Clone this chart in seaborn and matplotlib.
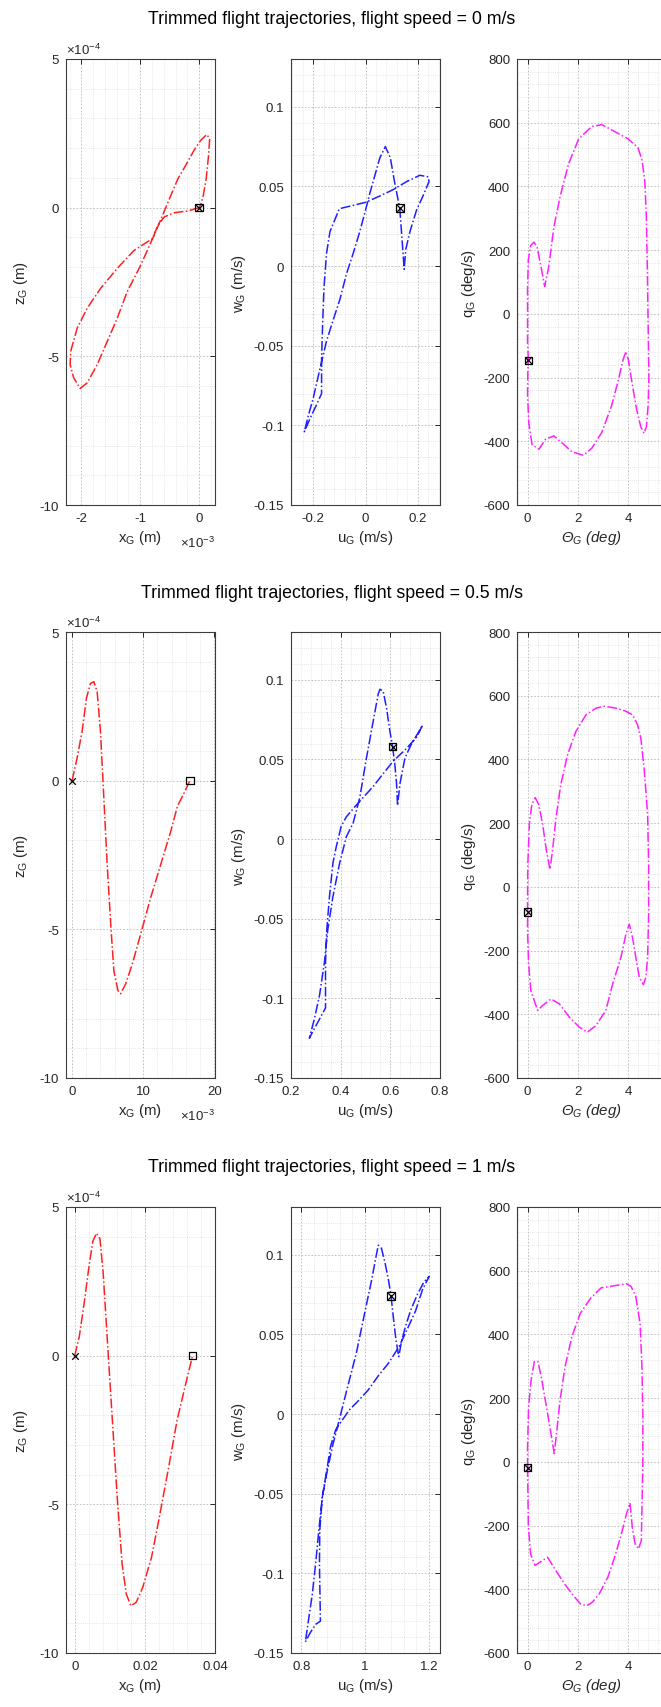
import numpy as np
import matplotlib
matplotlib.use("Agg")
import matplotlib.pyplot as plt
from matplotlib.ticker import MultipleLocator, FuncFormatter
import seaborn as sns

# ---------------- data ----------------
speeds = ["0", "0.5", "1"]

# Row 1 (speed 0): x in 1e-3 m, z in 1e-4 m
r1_x = [0, -0.19, -0.42, -0.59, -0.70, -0.79, -1.10, -1.39, -1.67, -1.90, -2.07, -2.18, -2.19, -2.13,
        -2.02, -1.90, -1.73, -1.56, -1.39, -1.22, -0.99, -0.79, -0.65, -0.51, -0.36, -0.22, -0.08, 0.03,
        0.13, 0.18, 0.16, 0.12, 0.07, 0.03, 0]
r1_z = [0, -0.11, -0.17, -0.31, -0.59, -1.04, -1.43, -2.04, -2.71, -3.38, -4.05, -4.83, -5.28, -5.72,
        -6.08, -5.89, -5.28, -4.50, -3.72, -2.82, -1.93, -1.04, -0.40, 0.27, 0.97, 1.45, 1.95, 2.27,
        2.46, 2.32, 1.74, 0.97, 0.40, 0.12, 0]
r1_u = [0.131, 0.141, 0.148, 0.154, 0.170, 0.195, 0.220, 0.243, 0.240, 0.208, 0.157, 0.106, 0.055,
        0.0, -0.05, -0.10, -0.136, -0.149, -0.159, -0.164, -0.168, -0.168, -0.187, -0.213, -0.234,
        -0.219, -0.200, -0.175, -0.149, -0.124, -0.098, -0.073, -0.047, -0.022, 0.0, 0.017, 0.036,
        0.055, 0.076, 0.095, 0.112, 0.131]
r1_w = [0.0364, 0.014, -0.002, 0.0104, 0.0216, 0.035, 0.044, 0.053, 0.056, 0.057, 0.053, 0.048,
        0.044, 0.040, 0.038, 0.036, 0.0216, 0.008, -0.014, -0.036, -0.058, -0.080, -0.087, -0.096,
        -0.104, -0.094, -0.083, -0.065, -0.047, -0.034, -0.021, -0.005, 0.008, 0.0216, 0.035, 0.046,
        0.057, 0.068, 0.075, 0.068, 0.052, 0.0364]
r1_th = [0.03, 0.0, 0.0, 0.03, 0.12, 0.25, 0.38, 0.51, 0.68, 0.84, 1.04, 1.30, 1.63, 2.03, 2.55, 2.95,
         3.47, 4.00, 4.39, 4.55, 4.66, 4.72, 4.76, 4.79, 4.82, 4.79, 4.72, 4.63, 4.50, 4.33, 4.16,
         4.00, 3.91, 3.80, 3.60, 3.34, 2.95, 2.55, 2.22, 1.76, 1.37, 1.04, 0.71, 0.45, 0.18, 0.05,
         0.0, 0.01, 0.03]
r1_q = [-146, -87, 80, 170, 214, 225, 209, 158, 86, 147, 270, 371, 471, 549, 588, 594, 572, 549, 521,
        482, 415, 304, 136, -31, -199, -288, -355, -375, -355, -299, -221, -143, -118, -143, -210,
        -288, -372, -422, -444, -433, -405, -383, -394, -425, -411, -344, -255, -176, -146]

# Row 2 (speed 0.5): x in 1e-3 m, z in 1e-4 m
r2_x = [0, 0.71, 1.41, 2.02, 2.59, 3.06, 3.53, 4.00, 4.47, 4.94, 5.50, 5.88, 6.45, 6.82, 7.53, 8.47,
        9.65, 11.06, 12.47, 13.88, 14.82, 15.76, 16.56]
r2_z = [0, 0.76, 1.65, 2.77, 3.27, 3.33, 2.99, 1.65, -0.58, -2.82, -5.05, -6.39, -7.06, -7.17, -6.84,
        -6.17, -5.16, -3.93, -2.82, -1.70, -0.86, -0.41, 0]
r2_u = [0.609, 0.618, 0.625, 0.629, 0.639, 0.659, 0.686, 0.713, 0.730, 0.706, 0.666, 0.612, 0.571,
        0.531, 0.490, 0.450, 0.423, 0.402, 0.382, 0.369, 0.355, 0.344, 0.339, 0.339, 0.315, 0.294,
        0.274, 0.294, 0.315, 0.335, 0.348, 0.369, 0.396, 0.423, 0.450, 0.477, 0.504, 0.531, 0.551,
        0.558, 0.571, 0.585, 0.598, 0.609]
r2_w = [0.058, 0.047, 0.035, 0.021, 0.035, 0.051, 0.060, 0.067, 0.0716, 0.064, 0.057, 0.049, 0.041,
        0.033, 0.026, 0.019, 0.014, 0.008, -0.005, -0.015, -0.036, -0.057, -0.077, -0.106, -0.113,
        -0.119, -0.125, -0.113, -0.098, -0.077, -0.057, -0.036, -0.015, 0.0015, 0.010, 0.026, 0.051,
        0.074, 0.091, 0.094, 0.093, 0.082, 0.068, 0.058]
r2_th = [0.0, 0.0, 0.01, 0.07, 0.17, 0.30, 0.44, 0.60, 0.75, 0.89, 0.99, 1.13, 1.32, 1.59, 1.92, 2.32,
         2.72, 3.05, 3.51, 3.91, 4.17, 4.37, 4.50, 4.64, 4.77, 4.81, 4.81, 4.77, 4.70, 4.60, 4.44,
         4.30, 4.17, 4.04, 3.91, 3.71, 3.38, 3.11, 2.72, 2.38, 2.05, 1.66, 1.26, 0.93, 0.60, 0.40,
         0.13, 0.04, 0.0, 0.0]
r2_q = [-78, -33, 71, 196, 259, 280, 259, 196, 113, 55, 113, 217, 321, 415, 488, 540, 561, 567, 561,
        551, 540, 509, 467, 363, 227, 71, -86, -221, -284, -307, -284, -221, -159, -117, -148, -221,
        -305, -388, -435, -456, -440, -409, -367, -352, -372, -388, -326, -242, -138, -78]

# Row 3 (speed 1): x in m, z in 1e-4 m
r3_x = [0, 0.0013, 0.0027, 0.0042, 0.0052, 0.0062, 0.0072, 0.0081, 0.0094, 0.0106, 0.0121, 0.0135,
        0.0147, 0.0160, 0.0175, 0.0194, 0.0219, 0.0243, 0.0268, 0.0292, 0.0317, 0.0336]
r3_z = [0, 0.65, 1.78, 3.13, 3.86, 4.12, 3.92, 2.79, 0.32, -1.94, -4.75, -7.00, -8.02, -8.41, -8.30,
        -7.79, -6.78, -5.32, -3.74, -2.16, -0.92, 0]
r3_u = [1.081, 1.089, 1.096, 1.105, 1.113, 1.126, 1.142, 1.163, 1.184, 1.200, 1.179, 1.158, 1.131,
        1.105, 1.073, 1.041, 1.009, 0.977, 0.951, 0.929, 0.908, 0.892, 0.880, 0.866, 0.858, 0.857,
        0.860, 0.845, 0.829, 0.813, 0.823, 0.834, 0.845, 0.855, 0.866, 0.880, 0.898, 0.919, 0.945,
        0.972, 0.998, 1.020, 1.036, 1.041, 1.051, 1.062, 1.073, 1.081]
r3_w = [0.074, 0.059, 0.047, 0.036, 0.045, 0.055, 0.065, 0.075, 0.083, 0.0864, 0.078, 0.065, 0.053,
        0.042, 0.032, 0.024, 0.015, 0.008, 0.0027, -0.0036, -0.0098, -0.020, -0.035, -0.052, -0.073,
        -0.094, -0.130, -0.132, -0.137, -0.143, -0.129, -0.114, -0.094, -0.073, -0.052, -0.037,
        -0.020, -0.0036, 0.017, 0.038, 0.063, 0.084, 0.101, 0.106, 0.104, 0.095, 0.084, 0.074]
r3_th = [0.0, 0.0, 0.04, 0.14, 0.27, 0.41, 0.54, 0.75, 0.95, 1.06, 1.15, 1.29, 1.49, 1.76, 2.10, 2.51,
         2.92, 3.46, 3.93, 4.11, 4.30, 4.47, 4.54, 4.58, 4.58, 4.54, 4.52, 4.41, 4.27, 4.16, 4.07,
         3.93, 3.73, 3.46, 3.19, 2.85, 2.58, 2.35, 2.10, 1.76, 1.42, 1.08, 0.80, 0.55, 0.30, 0.12,
         0.03, 0.0]
r3_q = [-18, 47, 173, 257, 315, 315, 268, 173, 79, 26, 89, 194, 299, 393, 467, 514, 546, 553, 559,
        551, 519, 435, 310, 152, -5, -163, -247, -273, -257, -205, -129, -163, -226, -299, -362,
        -414, -440, -452, -446, -414, -377, -336, -300, -312, -325, -290, -200, -18]

rows = [
    dict(x=r1_x, z=r1_z, u=r1_u, w=r1_w, th=r1_th, q=r1_q,
         xlim=(-2.26, 0.27), xticks=[-2, -1, 0], xmin=0.2, xexp=True,
         ulim=(-0.285, 0.285), uticks=[-0.2, 0, 0.2], umin=0.04),
    dict(x=r2_x, z=r2_z, u=r2_u, w=r2_w, th=r2_th, q=r2_q,
         xlim=(-0.85, 20.1), xticks=[0, 10, 20], xmin=2, xexp=True,
         ulim=(0.2, 0.8), uticks=[0.2, 0.4, 0.6, 0.8], umin=0.04),
    dict(x=r3_x, z=r3_z, u=r3_u, w=r3_w, th=r3_th, q=r3_q,
         xlim=(-0.0025, 0.0400), xticks=[0, 0.02, 0.04], xmin=0.004, xexp=False,
         ulim=(0.768, 1.234), uticks=[0.8, 1.0, 1.2], umin=0.04),
]

# ---------------- style ----------------
sns.set_theme(style="white")
plt.rcParams["font.family"] = ["Liberation Sans", "DejaVu Sans"]
plt.rcParams["mathtext.fontset"] = "custom"
plt.rcParams["mathtext.rm"] = "Liberation Sans"
plt.rcParams["mathtext.it"] = "Liberation Sans:italic"
plt.rcParams["mathtext.default"] = "regular"
plt.rcParams["axes.unicode_minus"] = False

W, H = 661, 1708
fig = plt.figure(figsize=(W / 100, H / 100), dpi=100)
fig.patch.set_facecolor("white")

TXT = "#262626"
col_left = [66, 291, 517]
col_w = 149
row_top = [60, 633, 1208]
row_h = 446
fmt = FuncFormatter(lambda v, p: f"{v:g}")


def style_axes(ax, xlim, ylim, xticks, yticks, xminor, yminor):
    ax.set_xlim(*xlim)
    ax.set_ylim(*ylim)
    ax.set_xticks(xticks)
    ax.set_yticks(yticks)
    ax.xaxis.set_minor_locator(MultipleLocator(xminor))
    ax.yaxis.set_minor_locator(MultipleLocator(yminor))
    ax.xaxis.set_major_formatter(fmt)
    ax.yaxis.set_major_formatter(fmt)
    ax.grid(True, which="major", linestyle=(0, (2, 2)), color="#b8b8b8", linewidth=0.6)
    ax.grid(True, which="minor", linestyle=(0, (1, 2)), color="#d0d0d0", linewidth=0.5)
    ax.set_axisbelow(True)
    ax.tick_params(which="major", direction="in", length=3.5, width=0.7, top=True, right=True,
                   labelsize=9.5, colors=TXT, pad=5)
    ax.tick_params(which="minor", length=0, top=True, right=True)
    for s in ax.spines.values():
        s.set_color("#3c3c3c")
        s.set_linewidth(0.8)
    ax.set_facecolor("white")


def markers(ax, xs, ys):
    sns.scatterplot(x=[xs[0]], y=[ys[0]], marker="x", color="black", s=22, linewidth=0.9,
                    ax=ax, zorder=5, legend=False)
    sns.scatterplot(x=[xs[-1]], y=[ys[-1]], marker="s", facecolor="none", edgecolor="black",
                    s=30, linewidth=0.9, ax=ax, zorder=5, legend=False)


LBL = 10.8
for i, rd in enumerate(rows):
    top = row_top[i]
    axs = []
    for j in range(3):
        ax = fig.add_axes([col_left[j] / W, 1 - (top + row_h) / H, col_w / W, row_h / H])
        axs.append(ax)
    fig.text(332 / W, 1 - (top - 40) / H,
             f"Trimmed flight trajectories, flight speed = {speeds[i]} m/s",
             ha="center", va="center", fontsize=12.8, color="black")

    # panel 1: x-z
    ax = axs[0]
    sns.lineplot(x=rd["x"], y=rd["z"], sort=False, estimator=None, ax=ax, color="#ff2020",
                 linestyle="-.", linewidth=1.1)
    markers(ax, rd["x"], rd["z"])
    style_axes(ax, rd["xlim"], (-10, 5), rd["xticks"], [-10, -5, 0, 5], rd["xmin"], 1)
    ax.set_xlabel(r"x$_G$ (m)", fontsize=LBL, color=TXT, labelpad=3)
    ax.set_ylabel(r"z$_G$ (m)", fontsize=LBL, color=TXT, labelpad=7)
    ax.text(0.0, 1.005, r"$\times$10$^{-4}$", transform=ax.transAxes, ha="left", va="bottom",
            fontsize=9.5, color=TXT)
    if rd["xexp"]:
        ax.text(1.0, -0.083, r"$\times$10$^{-3}$", transform=ax.transAxes, ha="right", va="center",
                fontsize=9.5, color=TXT)

    # panel 2: u-w
    ax = axs[1]
    sns.lineplot(x=rd["u"], y=rd["w"], sort=False, estimator=None, ax=ax, color="#2020ff",
                 linestyle="-.", linewidth=1.1)
    markers(ax, rd["u"], rd["w"])
    style_axes(ax, rd["ulim"], (-0.15, 0.13), rd["uticks"],
               [-0.15, -0.1, -0.05, 0, 0.05, 0.1], rd["umin"], 0.01)
    ax.set_xlabel(r"u$_G$ (m/s)", fontsize=LBL, color=TXT, labelpad=3)
    ax.set_ylabel(r"w$_G$ (m/s)", fontsize=LBL, color=TXT, labelpad=4)

    # panel 3: theta-q
    ax = axs[2]
    sns.lineplot(x=rd["th"], y=rd["q"], sort=False, estimator=None, ax=ax, color="#ff20ff",
                 linestyle="-.", linewidth=1.1)
    markers(ax, rd["th"], rd["q"])
    style_axes(ax, (-0.42, 5.5), (-600, 800), [0, 2, 4], list(range(-600, 801, 200)), 0.4, 40)
    ax.set_xlabel("Θ$_{\\mathit{G}}$ (deg)", fontsize=LBL, color=TXT, labelpad=3, style="italic")
    ax.set_ylabel(r"q$_G$ (deg/s)", fontsize=LBL, color=TXT, labelpad=4)

fig.savefig("out.png", dpi=100, facecolor="white")
